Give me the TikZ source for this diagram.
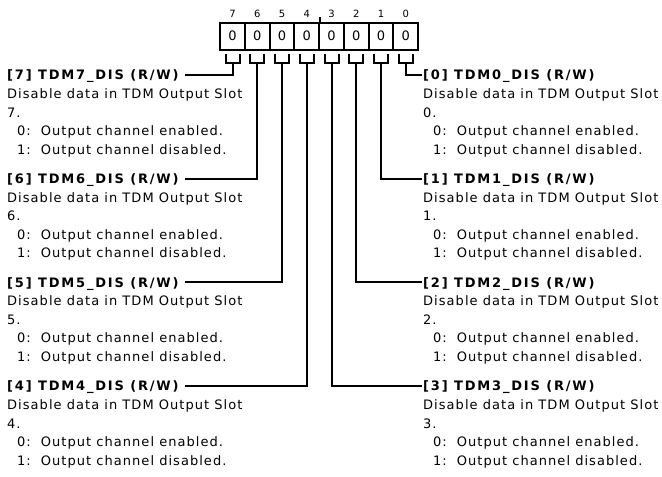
\documentclass[tikz,border=0pt]{standalone}
\usepackage{fontspec}
\setmainfont{DejaVu Sans}[LetterSpace=8]
\usetikzlibrary{positioning,calc}
\tikzset{
  regcell/.style={rectangle,draw=black,line width=2pt,minimum width=24.75pt,
                  minimum height=27pt,inner sep=0pt,font=\fontsize{13}{15}\selectfont},
  bitnum/.style={inner sep=0pt,font=\fontsize{10}{11}\selectfont},
  fldtitle/.style={inner sep=0pt,text height=9.4pt,text depth=0pt,
                   font=\fontsize{13}{18.5}\selectfont\bfseries\addfontfeature{LetterSpace=14}},
  flddesc/.style={inner sep=0pt,align=left,font=\fontsize{13}{18.5}\selectfont},
  wire/.style={draw=black,line width=2pt}
}
\newcommand{\disdesc}[1]{\rule{0pt}{10.5pt}Disable data in TDM Output Slot\\#1.\\
  \hspace*{10pt}0:\hspace{10pt}Output channel enabled.\\
  \hspace*{10pt}1:\hspace{10pt}Output channel disabled.}

\begin{document}
\begin{tikzpicture}[x=1pt,y=-1pt]
  \useasboundingbox (0,0) rectangle (662,477);

  % register cells, bit numbers and brackets
  \foreach \b in {0,...,7} {
    \node[regcell] (c\b) at ({232.5+24.75*(7-\b)},36) {0};
    \node[bitnum] (n\b) at ({232.5+24.75*(7-\b)},14) {\b};
    \coordinate (u\b) at ([yshift=-12pt]c\b.south);
    \draw[wire] ([xshift=-7pt,yshift=-3pt]c\b.south) -- ([xshift=-7pt]u\b)
      -- ([xshift=7pt]u\b) -- ([xshift=7pt,yshift=-3pt]c\b.south);
  }
  \draw[wire] (c4.north east) -- ++(0,-5);

  % field descriptions
  \foreach \l/\r/\yy in {7/0/75,6/1/178.7,5/2/282.3,4/3/386} {
    \node[fldtitle,anchor=west] (t\l) at (7,\yy) {[\l] TDM\l\_DIS (R/W)};
    \node[flddesc,below=8pt of t\l.south west,anchor=north west] (d\l) {\disdesc{\l}};
    \node[fldtitle,anchor=west] (t\r) at (423,\yy) {[\r] TDM\r\_DIS (R/W)};
    \node[flddesc,below=8pt of t\r.south west,anchor=north west] (d\r) {\disdesc{\r}};
    \draw[wire] (u\l) |- ([xshift=6pt]t\l.east);
    \draw[wire] (u\r) |- ([xshift=-1.5pt]t\r.west);
  }

\end{tikzpicture}
\end{document}
